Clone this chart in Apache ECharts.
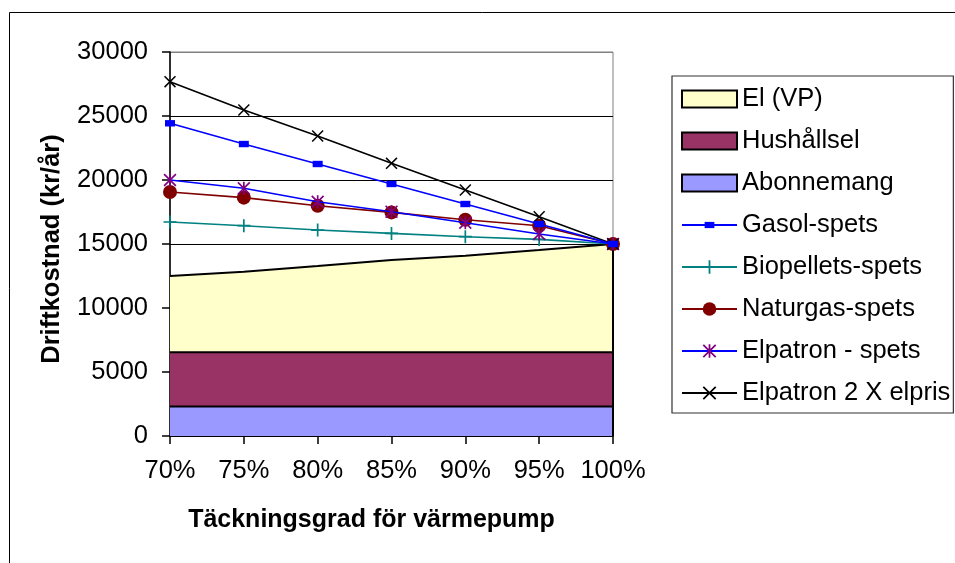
<!DOCTYPE html>
<html>
<head>
<meta charset="utf-8">
<script src="https://cdn.jsdelivr.net/npm/echarts@6/dist/echarts.min.js"></script>
<style>html,body{margin:0;padding:0;background:#fff}#c{width:955px;height:563px}</style>
</head>
<body>
<div id="c"></div>
<script>
const categories = ['70%', '75%', '80%', '85%', '90%', '95%', '100%'];
const yTicks = [0, 5000, 10000, 15000, 20000, 25000, 30000];
const abonnemang = [2300, 2300, 2300, 2300, 2300, 2300, 2300];
const hushallsel = [4250, 4250, 4250, 4250, 4250, 4250, 4250];
const elVP = [5950, 6290, 6730, 7200, 7540, 7980, 8450];
const gasolSpets = [24430, 22810, 21250, 19690, 18125, 16560, 15000];
const biopelletsSpets = [16720, 16430, 16090, 15830, 15570, 15360, 15000];
const naturgasSpets = [19060, 18620, 17990, 17470, 16900, 16430, 15000];
const elpatronSpets = [20000, 19350, 18300, 17525, 16660, 15780, 15000];
const elpatron2x = [27680, 25470, 23440, 21300, 19220, 17130, 15000];

const FONT = '"Liberation Sans", Arial, sans-serif';
const FS = 25.5;
const SYM_PLUS = 'path://M-1.3,-10 L1.3,-10 L1.3,10 L-1.3,10 Z M-10,-1.3 L10,-1.3 L10,1.3 L-10,1.3 Z';
const SYM_X = 'path://M-10,-8.2 L-8.2,-10 L10,8.2 L8.2,10 Z M8.2,-10 L10,-8.2 L-8.2,10 L-10,8.2 Z';
const SYM_STAR = 'path://M-10,-8.2 L-8.2,-10 L10,8.2 L8.2,10 Z M8.2,-10 L10,-8.2 L-8.2,10 L-10,8.2 Z M-1.3,-10 L1.3,-10 L1.3,10 L-1.3,10 Z';
const SYM_SQ = 'path://M-7,-7 M7,7 M-5,-3.2 L5,-3.2 L5,3.2 L-5,3.2 Z';

const last = categories.length - 1;
const totalLast = abonnemang[last] + hushallsel[last] + elVP[last];

const chart = echarts.init(document.getElementById('c'), null, {renderer: 'canvas'});

function lineSeries(name, data, color, symbol, size, markerColor, z) {
  return {
    name: name, type: 'line', data: data, z: z,
    symbol: symbol, symbolSize: size, showSymbol: true,
    lineStyle: {color: color, width: 1.6},
    itemStyle: {color: markerColor || color, borderWidth: 0},
    emphasis: {disabled: true}, animation: false
  };
}
function areaSeries(name, data, color) {
  return {
    name: name, type: 'line', stack: 'total', data: data, symbol: 'none',
    lineStyle: {color: '#000', width: 2},
    itemStyle: {color: color},
    areaStyle: {color: color, opacity: 1},
    emphasis: {disabled: true}, animation: false, z: 1
  };
}

const elSeries = areaSeries('El (VP)', elVP, '#FFFFCC');
elSeries.markLine = {
  silent: true, symbol: 'none', animation: false, label: {show: false},
  lineStyle: {color: '#000', width: 2, type: 'solid'},
  data: [[{coord: [categories[last], 0]}, {coord: [categories[last], totalLast]}]]
};

const option = {
  backgroundColor: '#fff',
  animation: false,
  textStyle: {fontFamily: FONT},
  graphic: [{
    type: 'rect', left: 7, top: 10, silent: true,
    shape: {width: 1000, height: 600},
    style: {fill: 'none', stroke: '#000', lineWidth: 1}
  }],
  grid: {left: 170, top: 52, right: 342, bottom: 127, show: true, borderColor: '#808080', borderWidth: 1, backgroundColor: '#fff'},
  legend: {
    orient: 'vertical', left: 672, top: 76,
    padding: [10, 3, 7, 9], itemWidth: 55, itemHeight: 17, itemGap: 16, itemTextGap: 6,
    backgroundColor: '#fff', borderColor: '#333', borderWidth: 1.2,
    textStyle: {fontFamily: FONT, fontSize: FS, lineHeight: 24, color: '#000'},
    selectedMode: false,
    data: [
      {name: 'El (VP)', icon: 'rect', itemStyle: {borderColor: '#000', borderWidth: 2}},
      {name: 'Hushållsel', icon: 'rect', itemStyle: {borderColor: '#000', borderWidth: 2}},
      {name: 'Abonnemang', icon: 'rect', itemStyle: {borderColor: '#000', borderWidth: 2}},
      'Gasol-spets', 'Biopellets-spets', 'Naturgas-spets', 'Elpatron - spets', 'Elpatron 2 X elpris'
    ]
  },
  xAxis: {
    type: 'category', data: categories, boundaryGap: false,
    name: 'Täckningsgrad för värmepump', nameLocation: 'middle', nameGap: 72,
    nameTextStyle: {fontFamily: FONT, fontSize: 25, fontWeight: 'bold', color: '#000', padding: [0, 40, 0, 0]},
    axisLine: {lineStyle: {color: '#000', width: 1.5}},
    axisTick: {show: true, inside: false, length: 8, interval: 0, alignWithLabel: true, lineStyle: {color: '#000', width: 1.5}},
    axisLabel: {fontFamily: FONT, fontSize: FS, color: '#000', margin: 22, interval: 0},
    splitLine: {show: false}
  },
  yAxis: {
    type: 'value', min: yTicks[0], max: yTicks[yTicks.length - 1], interval: yTicks[1] - yTicks[0],
    name: 'Driftkostnad (kr/år)', nameLocation: 'middle', nameGap: 105,
    nameTextStyle: {fontFamily: FONT, fontSize: FS, fontWeight: 'bold', color: '#000', padding: [0, 10, 0, 0]},
    axisLine: {show: true, lineStyle: {color: '#000', width: 1.5}},
    axisTick: {show: true, inside: false, length: 8, lineStyle: {color: '#000', width: 1.5}},
    axisLabel: {fontFamily: FONT, fontSize: FS, color: '#000', margin: 22, formatter: function (v) { return String(v); }},
    splitLine: {show: true, lineStyle: {color: ['#000', '#000', '#000', '#000', '#000', '#000', '#808080'], width: 1}}
  },
  series: [
    areaSeries('Abonnemang', abonnemang, '#9999FF'),
    areaSeries('Hushållsel', hushallsel, '#993366'),
    elSeries,
    lineSeries('Biopellets-spets', biopelletsSpets, '#008080', SYM_PLUS, 13, null, 3),
    lineSeries('Naturgas-spets', naturgasSpets, '#800000', 'circle', 14, null, 4),
    lineSeries('Elpatron - spets', elpatronSpets, '#0000FF', SYM_STAR, 13, '#800080', 5),
    lineSeries('Elpatron 2 X elpris', elpatron2x, '#000000', SYM_X, 12, null, 6),
    lineSeries('Gasol-spets', gasolSpets, '#0000FF', SYM_SQ, 14, null, 7)
  ]
};
chart.setOption(option);
</script>
</body>
</html>
